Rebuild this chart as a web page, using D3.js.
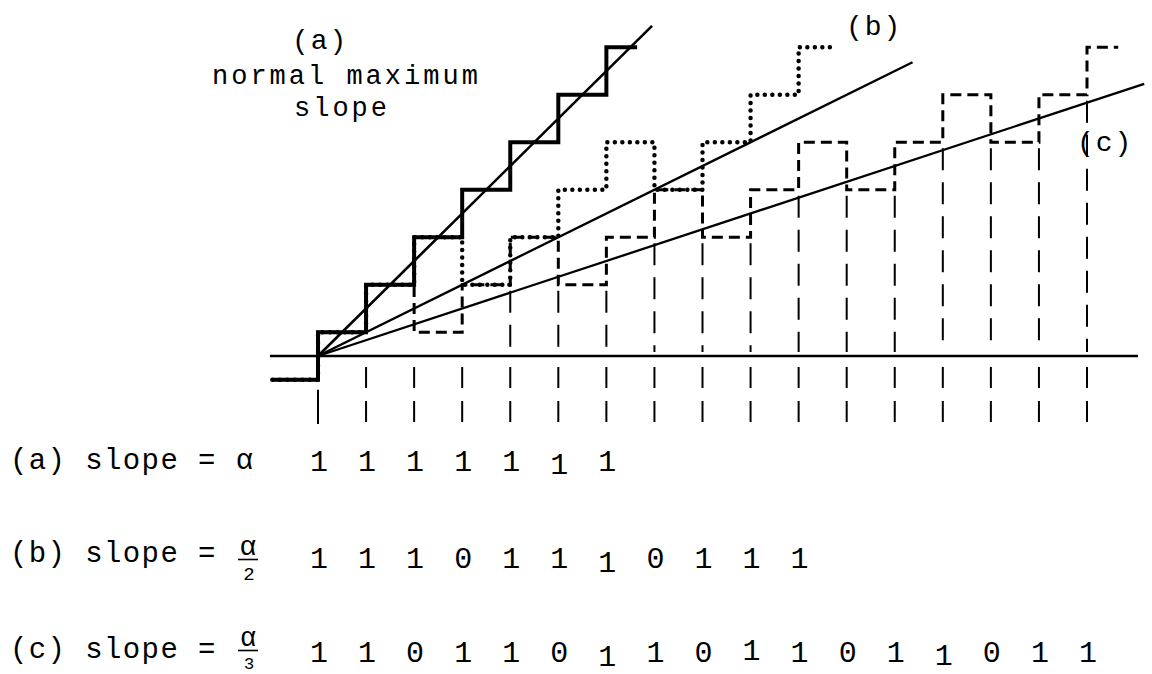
<!DOCTYPE html>
<html><head><meta charset="utf-8">
<script src="https://cdn.jsdelivr.net/npm/d3@7"></script>
<style>html,body{margin:0;padding:0;background:#fff;}svg{display:block;}</style>
</head><body>
<svg id="c" width="1152" height="674"></svg>
<script>
// ---- data (in step units; sample index along x) ----
const levelsA = [-0.5, 0.5, 1.5, 2.5, 3.5, 4.5, 5.5, 6.5];
const levelsB = [-0.5, 0.5, 1.5, 2.5, 1.5, 2.5, 3.5, 4.5, 3.5, 4.5, 5.5, 6.5];
const levelsC = [-0.5, 0.5, 1.5, 0.5, 1.5, 2.5, 1.5, 2.5, 3.5, 2.5, 3.5, 4.5, 3.5, 4.5, 5.5, 4.5, 5.5, 6.5];
const stairEnds = [6.64, 10.65, 16.65];
const slopes = [1, 1/2, 1/3];
const slopeLineEnds = [6.95, 12.37, 17.19];
const bitsA = ["1","1","1","1","1","1","1"];
const bitsB = ["1","1","1","0","1","1","1","0","1","1","1"];
const bitsC = ["1","1","0","1","1","0","1","1","0","1","1","0","1","1","0","1","1"];
const bitShiftA = [0,0,0,0,0,3,0];
const bitShiftB = [0,0,0,0,0,0,4,0,0,0,0];
const bitShiftC = [0,0,0,0,0,0,4,0,0,-2,0,0,0,3,0,0,0];
const rowLabels = ["(a) slope = α", "(b) slope =", "(c) slope ="];
const fracNum = ["", "α", "α"];
const fracDen = ["", "2", "3"];
const curveLabels = ["(a)", "(b)", "(c)"];
const titleLines = ["normal maximum", "slope"];

const svg = d3.select("#c");
const x = d3.scaleLinear().domain([0, 16]).range([318, 1087]);
const y = d3.scaleLinear().domain([0, 1]).range([356, 308.5]);
const FONT = "'Liberation Mono','Courier New',monospace";

// ---- sample verticals ----
const nS = levelsC.length - 1;
for (let i = 0; i < nS; i++) {
  const lower = Math.min(levelsC[i], levelsC[i+1]);
  if (lower >= 1.5) {
    svg.append("line").attr("x1", x(i)).attr("x2", x(i))
      .attr("y1", y(lower) + 6).attr("y2", y(0) - 4)
      .attr("stroke", "#000").attr("stroke-width", 2)
      .attr("stroke-dasharray", "22 12");
  }
  const y0 = lower < 0 ? y(lower) + 10 : 367;
  svg.append("line").attr("x1", x(i)).attr("x2", x(i))
    .attr("y1", y0).attr("y2", 424)
    .attr("stroke", "#000").attr("stroke-width", 2)
    .attr("stroke-dasharray", lower < 0 ? null : "21 13");
}

// ---- zero line ----
svg.append("line").attr("x1", x(-1.0)).attr("x2", x(17.06))
  .attr("y1", y(0)).attr("y2", y(0))
  .attr("stroke", "#000").attr("stroke-width", 2.4);

// ---- staircases ----
function stairPts(L, tEnd) {
  const p = [[-0.95, L[0]]];
  for (let i = 0; i < L.length - 1; i++) p.push([i, L[i+1]]);
  p.push([tEnd, L[L.length-1]]);
  return p;
}
const stair = d3.line().x(d => x(d[0])).y(d => y(d[1])).curve(d3.curveStepAfter);

svg.append("path").attr("d", stair(stairPts(levelsB, stairEnds[1])))
  .attr("fill", "none").attr("stroke", "#000").attr("stroke-width", 4.5)
  .attr("stroke-linecap", "round").attr("stroke-dasharray", "0 7.5");
svg.append("path").attr("d", stair(stairPts(levelsC, stairEnds[2])))
  .attr("fill", "none").attr("stroke", "#000").attr("stroke-width", 3)
  .attr("stroke-dasharray", "11 6");
svg.append("path").attr("d", stair(stairPts(levelsA, stairEnds[0])))
  .attr("fill", "none").attr("stroke", "#000").attr("stroke-width", 4);

// ---- slope lines ----
const sl = d3.line().x(d => x(d[0])).y(d => y(d[1]));
slopes.forEach((s, k) => {
  svg.append("path").attr("d", sl([[0, 0], [slopeLineEnds[k], s * slopeLineEnds[k]]]))
    .attr("fill", "none").attr("stroke", "#000").attr("stroke-width", k === 0 ? 2.6 : 2.3);
});

// ---- text helper ----
const txt = (s, xx, yy, size, ls, anchor) => svg.append("text").text(s)
  .attr("x", xx).attr("y", yy).attr("font-family", FONT).attr("font-size", size)
  .attr("letter-spacing", ls || 0)
  .attr("text-anchor", anchor || "start").attr("fill", "#000");

// ---- curve labels ----
txt(curveLabels[0], 292, 49, 28, 2);
txt(titleLines[0], 212, 84, 27, 3);
txt(titleLines[1], 294, 116, 27, 3);
txt(curveLabels[1], 846, 35, 28, 2);
txt(curveLabels[2], 1077, 151, 28, 2);

// ---- bottom rows ----
const rowTextY = [469, 562, 658];
const rowBitY = [471, 568, 662];
const numY = [0, 555, 646];
const numSize = [0, 28, 27];
const barY = [0, 559.5, 650.5];
const denY = [0, 580, 669];
const denSize = [0, 19, 17];
rowLabels.forEach((s, r) => txt(s, 10, rowTextY[r], 29, 1.4));
[1, 2].forEach(r => {
  txt(fracNum[r], 248, numY[r], numSize[r], 0, "middle");
  svg.append("line").attr("x1", 238).attr("x2", 258)
    .attr("y1", barY[r]).attr("y2", barY[r])
    .attr("stroke", "#000").attr("stroke-width", 1.6);
  txt(fracDen[r], 249, denY[r], denSize[r], 0, "middle");
});
const bitRows = [[bitsA, bitShiftA], [bitsB, bitShiftB], [bitsC, bitShiftC]];
bitRows.forEach(([bits, sh], r) => {
  svg.append("g").selectAll("text").data(bits).join("text")
    .text(d => d)
    .attr("x", (d, i) => x(i) + 1)
    .attr("y", (d, i) => rowBitY[r] + sh[i])
    .attr("text-anchor", "middle")
    .attr("font-family", FONT).attr("font-size", 30).attr("fill", "#000");
});
</script>
</body></html>
